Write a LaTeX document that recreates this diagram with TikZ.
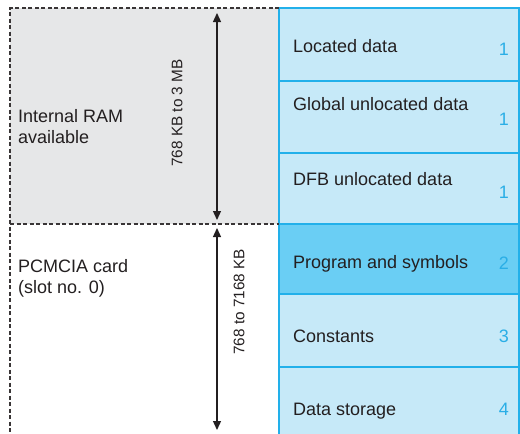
\documentclass[tikz,border=0pt]{standalone}
\usepackage{fontspec}
\setmainfont{Liberation Sans}
\usetikzlibrary{arrows.meta}
\definecolor{ramgray}{HTML}{E6E7E8}
\definecolor{lightblue}{HTML}{C6E9F8}
\definecolor{darkblue}{HTML}{6ACEF4}
\definecolor{edgeblue}{HTML}{22B0EA}
\definecolor{numblue}{HTML}{2AAEE6}
\definecolor{txt}{HTML}{231F20}
\tikzset{
  area/.style={draw=edgeblue, line width=1.2pt},
  dashline/.style={draw=txt!90, dash pattern=on 4pt off 2.5pt, line width=1.1pt},
  lbl/.style={anchor=base west, inner sep=0pt, text=txt, font=\fontsize{18}{21}\selectfont},
  num/.style={anchor=base east, inner sep=0pt, text=numblue, font=\fontsize{18}{21}\selectfont},
  dim/.style={{Triangle[length=9pt,width=8pt]}-{Triangle[length=9pt,width=8pt]}, draw=txt, line width=1.3pt},
  dimlbl/.style={rotate=90, inner sep=0pt, text=txt, font=\fontsize{15.3}{18}\selectfont}
}
\begin{document}
\begin{tikzpicture}[x=1pt,y=-1pt]
\useasboundingbox (0,0) rectangle (520,434);
% gray internal RAM area
\fill[ramgray] (10,8) rectangle (279,224);
% blue blocks
\filldraw[area, fill=lightblue] (279,8) rectangle (519,81);
\filldraw[area, fill=lightblue] (279,81) rectangle (519,153);
\filldraw[area, fill=lightblue] (279,153) rectangle (519,224);
\filldraw[area, fill=darkblue] (279,224) rectangle (519,294);
\filldraw[area, fill=lightblue] (279,294) rectangle (519,367);
\path[fill=lightblue] (279,367) rectangle (519,434);
\draw[area] (279,434) -- (279,367) -- (519,367) -- (519,434);
% dashed outline
\draw[dashline] (279,8) -- (10,8) -- (10,434);
\draw[dashline] (10,224) -- (279,224);
% block texts
\node[lbl] (t1) at (293,52) {Located data};
\node[num] (n1) at (509,55) {1};
\node[lbl] (t2) at (293,110) {Global unlocated data};
\node[num] (n2) at (509,125) {1};
\node[lbl] (t3) at (293,185) {DFB unlocated data};
\node[num] (n3) at (509,198) {1};
\node[lbl] (t4) at (293,268) {Program and symbols};
\node[num] (n4) at (509,269) {2};
\node[lbl] (t5) at (293,342) {Constants};
\node[num] (n5) at (509,342) {3};
\node[lbl] (t6) at (293,415) {Data storage};
\node[num] (n6) at (509,415) {4};
% side texts
\node[lbl] (ram1) at (18,122) {Internal RAM};
\node[lbl] (ram2) at (18,143) {available};
\node[lbl] (pc1) at (18,272) {PCMCIA card};
\node[lbl] (pc2) at (18,293) {(slot no. 0)};
% dimension arrows
\coordinate (a1) at (217,13);
\coordinate (b1) at (217,220);
\coordinate (a2) at (217,228);
\coordinate (b2) at (217,430);
\draw[dim] (a1) -- (b1);
\draw[dim] (a2) -- (b2);
\node[dimlbl] (d1) at (177,113) {768 KB to 3 MB};
\node[dimlbl] (d2) at (239,302) {768 to 7168 KB};
\end{tikzpicture}
\end{document}
